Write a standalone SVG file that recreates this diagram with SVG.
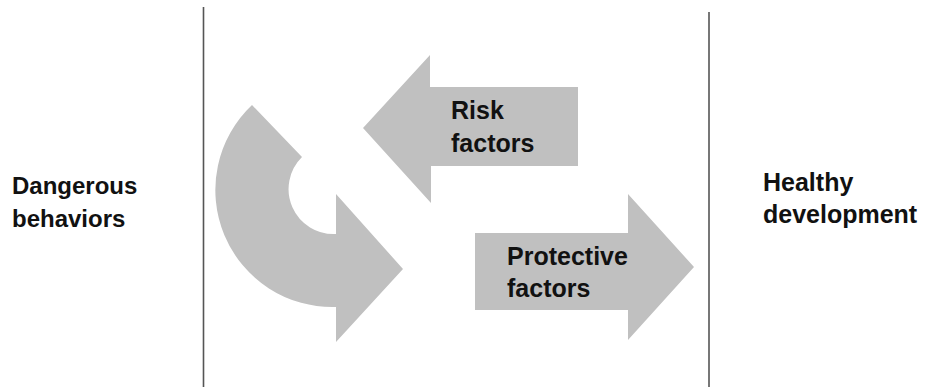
<svg xmlns="http://www.w3.org/2000/svg" width="925" height="387" viewBox="0 0 925 387">
<style>
.lbl{font-family:"Liberation Sans",Arial,sans-serif;font-weight:bold;fill:#111;}
.arr{fill:#c0c0c0;}
.div{stroke:#555;stroke-width:1.6;fill:none;}
</style>
<rect width="925" height="387" fill="#fff"/>
<g id="dividers">
<line class="div" x1="203.5" y1="7" x2="203.5" y2="387"/>
<line class="div" x1="709" y1="12" x2="709" y2="387"/>
</g>
<g id="dangerous-behaviors">
<text class="lbl" font-size="24" x="12" y="194">Dangerous</text>
<text class="lbl" font-size="24" x="12" y="227">behaviors</text>
</g>
<g id="healthy-development">
<text class="lbl" font-size="25" x="763" y="191">Healthy</text>
<text class="lbl" font-size="25" x="763" y="223">development</text>
</g>
<g id="cycle-arrow">
<path class="arr" d="M252 105 A117 117 0 0 0 336 307 L336 342 L403 269 L336 194 L336 234 A45 45 0 0 1 302 157 Z"/>
</g>
<g id="risk-factors">
<path class="arr" d="M578 87 L430 87 L430 55 L363 128 L431 203 L431 166 L578 166 Z"/>
<text class="lbl" font-size="25" x="451" y="119">Risk</text>
<text class="lbl" font-size="25" x="451" y="152">factors</text>
</g>
<g id="protective-factors">
<path class="arr" d="M475 233 L628 233 L628 194 L694 267 L628 340 L628 310 L475 310 Z"/>
<text class="lbl" font-size="25" x="507" y="265">Protective</text>
<text class="lbl" font-size="25" x="507" y="297">factors</text>
</g>
</svg>
